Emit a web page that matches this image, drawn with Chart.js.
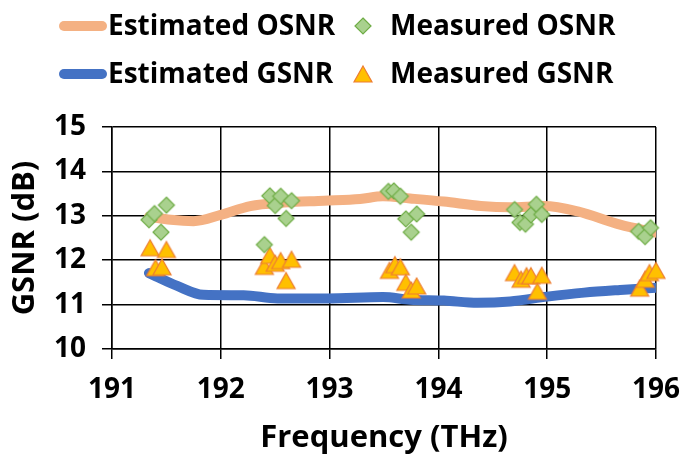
<!DOCTYPE html>
<html>
<head>
<meta charset="utf-8">
<script src="https://cdn.jsdelivr.net/npm/chart.js@4.4.1/dist/chart.umd.min.js"></script>
<style>
html,body{margin:0;padding:0;background:#fff;}
#wrap{width:680px;height:455px;position:relative;}
</style>
</head>
<body>
<div id="wrap"><canvas id="c" width="680" height="455"></canvas></div>
<script>
// ---- data ----
const seriesLabels = ['Estimated OSNR', 'Measured OSNR', 'Estimated GSNR', 'Measured GSNR'];
const xTickValues = [191, 192, 193, 194, 195, 196];
const yTickValues = [10, 11, 12, 13, 14, 15];

const estOsnrFreq = [191.34, 191.54, 191.75, 192.0, 192.27, 192.58, 192.95, 193.28, 193.49, 193.74, 194.05, 194.39, 194.66, 194.97, 195.28, 195.67, 196.0];
const estOsnrVal  = [12.98, 12.91, 12.88, 13.02, 13.22, 13.30, 13.34, 13.38, 13.44, 13.39, 13.32, 13.22, 13.19, 13.22, 13.10, 12.80, 12.62];

const estGsnrFreq = [191.34, 191.6, 191.84, 192.21, 192.52, 192.98, 193.49, 193.74, 194.05, 194.36, 194.66, 195.0, 195.34, 195.67, 196.0];
const estGsnrVal  = [11.71, 11.42, 11.22, 11.21, 11.14, 11.14, 11.17, 11.11, 11.09, 11.04, 11.07, 11.18, 11.27, 11.33, 11.38];

const measOsnrFreq = [191.34, 191.39, 191.50, 191.45,
                      192.40, 192.45, 192.50, 192.55, 192.65, 192.60,
                      193.54, 193.59, 193.65, 193.70, 193.80, 193.75,
                      194.70, 194.75, 194.80, 194.85, 194.90, 194.95,
                      195.84, 195.90, 195.95];
const measOsnrVal  = [12.91, 13.05, 13.24, 12.63,
                      12.35, 13.45, 13.23, 13.44, 13.34, 12.94,
                      13.55, 13.56, 13.44, 12.93, 13.04, 12.63,
                      13.14, 12.85, 12.81, 13.02, 13.26, 13.03,
                      12.65, 12.53, 12.73];

const measGsnrFreq = [191.35, 191.50, 191.40, 191.46,
                      192.40, 192.45, 192.50, 192.55, 192.65, 192.60,
                      193.55, 193.60, 193.65, 193.70, 193.75, 193.80,
                      194.70, 194.76, 194.81, 194.85, 194.95, 194.91,
                      195.85, 195.90, 195.94, 196.0];
const measGsnrVal  = [12.28, 12.24, 11.83, 11.85,
                      11.86, 12.11, 11.93, 11.99, 12.02, 11.54,
                      11.77, 11.90, 11.85, 11.50, 11.33, 11.42,
                      11.72, 11.57, 11.65, 11.65, 11.66, 11.30,
                      11.37, 11.57, 11.72, 11.77];

// ---- helpers ----
const toPts = (xs, ys) => xs.map((x, i) => ({x: x, y: ys[i]}));

function makeTriangle(w, h, fill, stroke) {
  const c = document.createElement('canvas');
  const W = Math.ceil(w) + 4, H = Math.ceil(h) + 4;
  c.width = W; c.height = H;
  const g = c.getContext('2d');
  g.beginPath();
  g.moveTo(W / 2, (H - h) / 2);
  g.lineTo(W / 2 + w / 2, (H + h) / 2);
  g.lineTo(W / 2 - w / 2, (H + h) / 2);
  g.closePath();
  g.fillStyle = fill; g.fill();
  g.lineWidth = 1.2; g.strokeStyle = stroke; g.stroke();
  return c;
}
function makeDiamond(w, h, fill, stroke) {
  const c = document.createElement('canvas');
  const W = Math.ceil(w) + 4, H = Math.ceil(h) + 4;
  c.width = W; c.height = H;
  const g = c.getContext('2d');
  g.beginPath();
  g.moveTo(W / 2, (H - h) / 2);
  g.lineTo(W / 2 + w / 2, H / 2);
  g.lineTo(W / 2, (H + h) / 2);
  g.lineTo(W / 2 - w / 2, H / 2);
  g.closePath();
  g.fillStyle = fill; g.fill();
  g.lineWidth = 1.2; g.strokeStyle = stroke; g.stroke();
  return c;
}

const ORANGE = '#F4B183', BLUE = '#4472C4';
const TRI_FILL = '#FFC000', TRI_EDGE = '#ED7D31';
const DIA_FILL = '#A9D18E', DIA_EDGE = '#70AD47';
const triImg = makeTriangle(18, 16, TRI_FILL, TRI_EDGE);
const diaImg = makeDiamond(16, 16, DIA_FILL, DIA_EDGE);

const FONT = '"Open Sans", "Noto Sans", sans-serif';

// custom legend laid out like the reference (two rows, two items each)
const refLegend = {
  id: 'refLegend',
  afterDraw(chart) {
    const ctx = chart.ctx;
    const ds = chart.data.datasets;
    const rows = [{y: 26, items: [0, 1]}, {y: 74, items: [2, 3]}];
    ctx.save();
    ctx.font = 'bold 28px ' + FONT;
    ctx.textBaseline = 'middle';
    ctx.textAlign = 'left';
    rows.forEach(row => {
      const a = ds[row.items[0]];
      ctx.strokeStyle = a.borderColor;
      ctx.lineWidth = 10;
      ctx.lineCap = 'round';
      ctx.beginPath();
      ctx.moveTo(64, row.y);
      ctx.lineTo(102, row.y);
      ctx.stroke();
      ctx.fillStyle = '#000';
      ctx.fillText(a.label, 108, row.y + 1);
      const b = ds[row.items[1]];
      const img = b.pointStyle;
      ctx.drawImage(img, 363 - img.width / 2, row.y - img.height / 2);
      ctx.fillStyle = '#000';
      ctx.fillText(b.label, 390, row.y + 1);
    });
    ctx.restore();
  }
};

const lineClip = {left: 10, top: 10, right: 0, bottom: 10};

const chart = new Chart(document.getElementById('c'), {
  type: 'scatter',
  data: {
    datasets: [
      {
        label: seriesLabels[0],
        data: toPts(estOsnrFreq, estOsnrVal),
        showLine: true,
        borderColor: ORANGE,
        backgroundColor: ORANGE,
        borderWidth: 10,
        pointRadius: 0,
        pointHoverRadius: 0,
        tension: 0.4,
        cubicInterpolationMode: 'monotone',
        borderCapStyle: 'round',
        borderJoinStyle: 'round',
        clip: lineClip,
        order: 2
      },
      {
        label: seriesLabels[1],
        data: toPts(measOsnrFreq, measOsnrVal),
        pointStyle: diaImg,
        pointRadius: 8,
        backgroundColor: DIA_FILL,
        borderColor: DIA_EDGE,
        clip: false,
        order: 0
      },
      {
        label: seriesLabels[2],
        data: toPts(estGsnrFreq, estGsnrVal),
        showLine: true,
        borderColor: BLUE,
        backgroundColor: BLUE,
        borderWidth: 10,
        pointRadius: 0,
        pointHoverRadius: 0,
        tension: 0.4,
        cubicInterpolationMode: 'monotone',
        borderCapStyle: 'round',
        borderJoinStyle: 'round',
        clip: lineClip,
        order: 3
      },
      {
        label: seriesLabels[3],
        data: toPts(measGsnrFreq, measGsnrVal),
        pointStyle: triImg,
        pointRadius: 9,
        backgroundColor: TRI_FILL,
        borderColor: TRI_EDGE,
        clip: false,
        order: 1
      }
    ]
  },
  options: {
    responsive: false,
    animation: false,
    devicePixelRatio: 1,
    layout: {padding: {top: 127, right: 24, bottom: 0, left: 0}},
    plugins: {
      legend: {display: false},
      tooltip: {enabled: false}
    },
    scales: {
      x: {
        type: 'linear',
        min: xTickValues[0],
        max: xTickValues[xTickValues.length - 1],
        afterBuildTicks: (s) => { s.ticks = xTickValues.map(v => ({value: v})); },
        afterFit: (s) => { s.height = 455 - 349; s.paddingRight = 0; s.paddingLeft = 0; },
        ticks: {
          color: '#000',
          font: {family: FONT, size: 28, weight: 'bold'},
          padding: 14,
          maxRotation: 0,
          callback: (v) => String(v)
        },
        grid: {color: '#000', lineWidth: 1.5, tickLength: 10, drawTicks: true},
        border: {color: '#000', width: 1.5},
        title: {
          display: true,
          text: 'Frequency (THz)',
          color: '#000',
          font: {family: FONT, size: 31, weight: 'bold', lineHeight: 1},
          padding: {top: 0, bottom: 1}
        }
      },
      y: {
        type: 'linear',
        min: yTickValues[0],
        max: yTickValues[yTickValues.length - 1],
        afterBuildTicks: (s) => { s.ticks = yTickValues.map(v => ({value: v})); },
        afterFit: (s) => { s.width = 112; },
        ticks: {
          color: '#000',
          font: {family: FONT, size: 28, weight: 'bold'},
          padding: 16,
          callback: (v) => String(v)
        },
        grid: {color: '#000', lineWidth: 1.5, tickLength: 10, drawTicks: true},
        border: {color: '#000', width: 1.5},
        title: {
          display: true,
          text: 'GSNR (dB)',
          color: '#000',
          font: {family: FONT, size: 31, weight: 'bold', lineHeight: 1},
          padding: {top: 10, bottom: 0}
        }
      }
    }
  },
  plugins: [refLegend]
});
</script>
</body>
</html>
